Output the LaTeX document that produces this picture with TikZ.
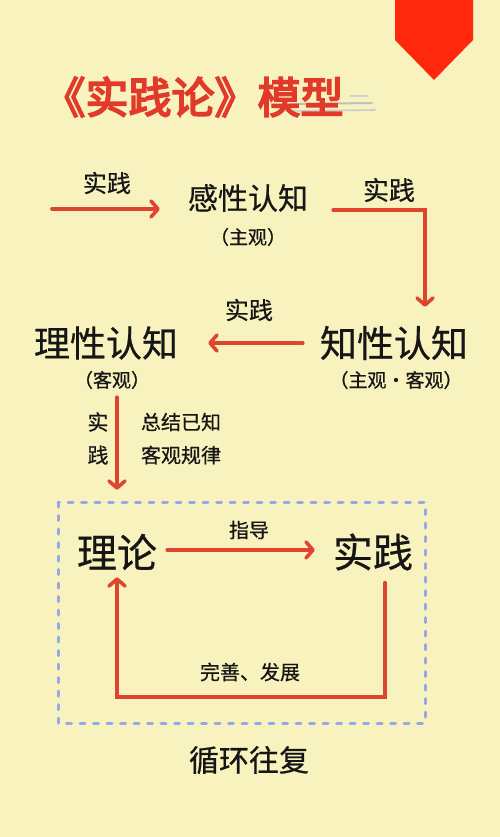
\documentclass[tikz,border=0pt]{standalone}
\usepackage{fontspec}
\newfontfamily\cjk{Noto Sans CJK SC}[FakeBold=0.6]
\newfontfamily\cjkbold{Noto Sans CJK SC}[FakeBold=4]
\usetikzlibrary{arrows.meta,calc}
\definecolor{paper}{RGB}{248,242,190}
\definecolor{arrowred}{RGB}{222,68,46}
\definecolor{titlered}{RGB}{226,58,42}
\definecolor{flagred}{RGB}{255,40,12}
\definecolor{boxblue}{RGB}{150,168,232}
\definecolor{ink}{RGB}{22,22,22}
\tikzset{
  txt/.style={inner sep=0pt, text=ink, font=\cjk},
  arr/.style={draw=arrowred, line width=3.6pt, line cap=round, line join=miter,
    -{Straight Barb[length=7pt,width=16pt,line cap=round,line join=round]}},
}
\begin{document}
\begin{tikzpicture}[x=1pt,y=-1pt]
\fill[paper] (0,0) rectangle (500,837);
\useasboundingbox (0,0) rectangle (500,837);
% flag
\fill[flagred] (395,0) -- (473,0) -- (473,40) -- (434,80) -- (395,40) -- cycle;
% title shadow
\draw[gray!50, line width=2pt, line cap=round] (290,104) -- (372,103);
\draw[gray!40, line width=1.6pt, line cap=round] (286,111) -- (375,110);
\draw[gray!35, line width=1.2pt, line cap=round] (350,96) -- (368,96);
% title
\node[inner sep=0pt, text=titlered, font=\cjkbold\fontsize{43}{43}\selectfont] (title) at (193,97) {《实践论》模型};
% nodes
\node[txt, font=\cjk\fontsize{24}{24}\selectfont] (p1) at (107,183) {实践};
\node[txt, font=\cjk\fontsize{30}{30}\selectfont] (gx) at (248,198) {感性认知};
\node[txt, font=\cjk\fontsize{19}{19}\selectfont] (gxs) at (248,237) {（主观）};
\node[txt, font=\cjk\fontsize{26}{26}\selectfont] (p2) at (389,190) {实践};
\node[txt, font=\cjk\fontsize{24}{24}\selectfont] (p3) at (249,310) {实践};
\node[txt, font=\cjk\fontsize{36}{36}\selectfont] (lx) at (106,343) {理性认知};
\node[txt, font=\cjk\fontsize{37}{37}\selectfont] (zx) at (394,343) {知性认知};
\node[txt, font=\cjk\fontsize{19}{19}\selectfont] (lxs) at (112,380) {（客观）};
\node[txt, font=\cjk\fontsize{19}{19}\selectfont] (zxs) at (396,380) {（主观·客观）};
\node[txt, font=\cjk\fontsize{21}{21}\selectfont] (p4a) at (98,422) {实};
\node[txt, font=\cjk\fontsize{21}{21}\selectfont] (p4b) at (98,455) {践};
\node[txt, font=\cjk\fontsize{20}{20}\selectfont] (zj1) at (181,422) {总结已知};
\node[txt, font=\cjk\fontsize{20}{20}\selectfont] (zj2) at (181,455) {客观规律};
\node[txt, font=\cjk\fontsize{40}{40}\selectfont] (ll) at (117,552) {理论};
\node[txt, font=\cjk\fontsize{40}{40}\selectfont] (sj) at (373,552) {实践};
\node[txt, font=\cjk\fontsize{20}{20}\selectfont] (zd) at (249,530) {指导};
\node[txt, font=\cjk\fontsize{20}{20}\selectfont] (ws) at (250,672) {完善、发展};
\node[txt, font=\cjk\fontsize{30}{30}\selectfont] (xh) at (249,760) {循环往复};
% dashed box
\draw[boxblue, line width=3pt, line cap=round, dash pattern=on 5pt off 8.5pt]
  (58,502) rectangle (425,723);
% connectors
\coordinate (a1s) at (52,209);
\draw[arr, shorten >=28pt] (a1s) -- (a1s -| gx.west);
\coordinate (a2s) at ($(gx.east)+(25,12)$);
\coordinate (a2c) at (425,210);
\draw[arr, shorten >=19pt] (a2s) -- (a2c) -- (a2c |- zx.north);
\draw[arr] ($(zx.west)+(-17,0)$) -- ($(lx.east)+(30,0)$);
\draw[arr] ($(lxs.south)+(5,8)$) -- ($(ll.north)+(0,-44)$);
\draw[arr] ($(ll.east)+(10,-2)$) -- ($(sj.west)+(-18,-2)$);
\coordinate (a6c) at (385,697);
\draw[arr] ($(sj.south)+(12,12)$) -- (a6c) -- (a6c -| ll.south) -- ($(ll.south)+(0,7)$);
\end{tikzpicture}
\end{document}
